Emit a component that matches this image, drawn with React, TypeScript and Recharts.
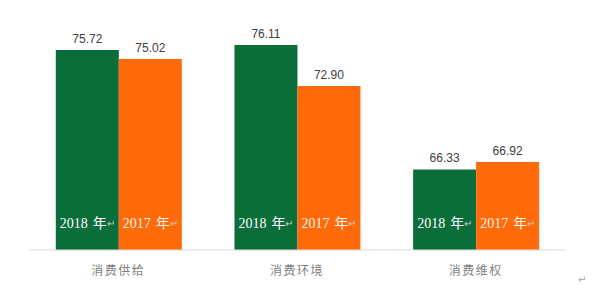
import { BarChart, Bar, XAxis, YAxis, LabelList } from 'recharts';

const categories = ['消费供给', '消费环境', '消费维权'];
const values2018 = [75.72, 76.11, 66.33];
const values2017 = [75.02, 72.9, 66.92];
const seriesNames = ['2018', '2017'];

const data = categories.map((name, i) => ({
  name,
  y2018: values2018[i],
  y2017: values2017[i],
}));

const GREEN = '#0b6e3a';
const ORANGE = '#ff6a0a';

function makeInsideLabel(year: string, color: string) {
  return (props: any) => {
    const { x, y, width, height } = props;
    const cx = Number(x) + Number(width) / 2;
    const cy = Number(y) + Number(height) - 27;
    return (
      <text
        x={cx}
        y={cy}
        textAnchor="middle"
        dominantBaseline="central"
        fontFamily="'Liberation Serif', 'Noto Sans CJK SC', serif"
        fontSize={14}
        fill={color}
      >
        {year}
        <tspan dx={5}>年</tspan>
        <tspan fill="#c8c8c8" fontSize={10}>↵</tspan>
      </text>
    );
  };
}

export default function App() {
  return (
    <div style={{ position: 'absolute', left: 0, top: 0, width: 600, height: 293, background: '#fff' }}>
      <BarChart
        width={600}
        height={293}
        data={data}
        margin={{ top: 21, right: 35, bottom: 0, left: 29 }}
        barCategoryGap="15%"
        barGap={0}
      >
        <XAxis
          dataKey="name"
          axisLine={{ stroke: '#d9d9d9' }}
          tickLine={false}
          height={43}
          tickMargin={10}
          tick={{ fill: '#7f7f7f', fontSize: 12, fontFamily: "'Noto Sans CJK SC', sans-serif", letterSpacing: 1.5 }}
        />
        <YAxis hide domain={[60, 78]} allowDataOverflow />
        <Bar dataKey="y2018" fill={GREEN} isAnimationActive={false}>
          <LabelList
            dataKey="y2018"
            position="top"
            offset={7}
            formatter={(v: any) => Number(v).toFixed(2)}
            style={{ fill: '#404040', fontSize: 12, fontFamily: "'Liberation Sans', sans-serif" }}
          />
          <LabelList dataKey="y2018" content={makeInsideLabel(seriesNames[0], '#ffffff')} />
        </Bar>
        <Bar dataKey="y2017" fill={ORANGE} isAnimationActive={false}>
          <LabelList
            dataKey="y2017"
            position="top"
            offset={7}
            formatter={(v: any) => Number(v).toFixed(2)}
            style={{ fill: '#404040', fontSize: 12, fontFamily: "'Liberation Sans', sans-serif" }}
          />
          <LabelList dataKey="y2017" content={makeInsideLabel(seriesNames[1], '#fff3e6')} />
        </Bar>
      </BarChart>
      <div
        style={{
          position: 'absolute',
          left: 578,
          top: 274,
          fontSize: 10,
          color: '#a0a0a0',
          fontFamily: "'DejaVu Sans', sans-serif",
        }}
      >
        ↵
      </div>
    </div>
  );
}
